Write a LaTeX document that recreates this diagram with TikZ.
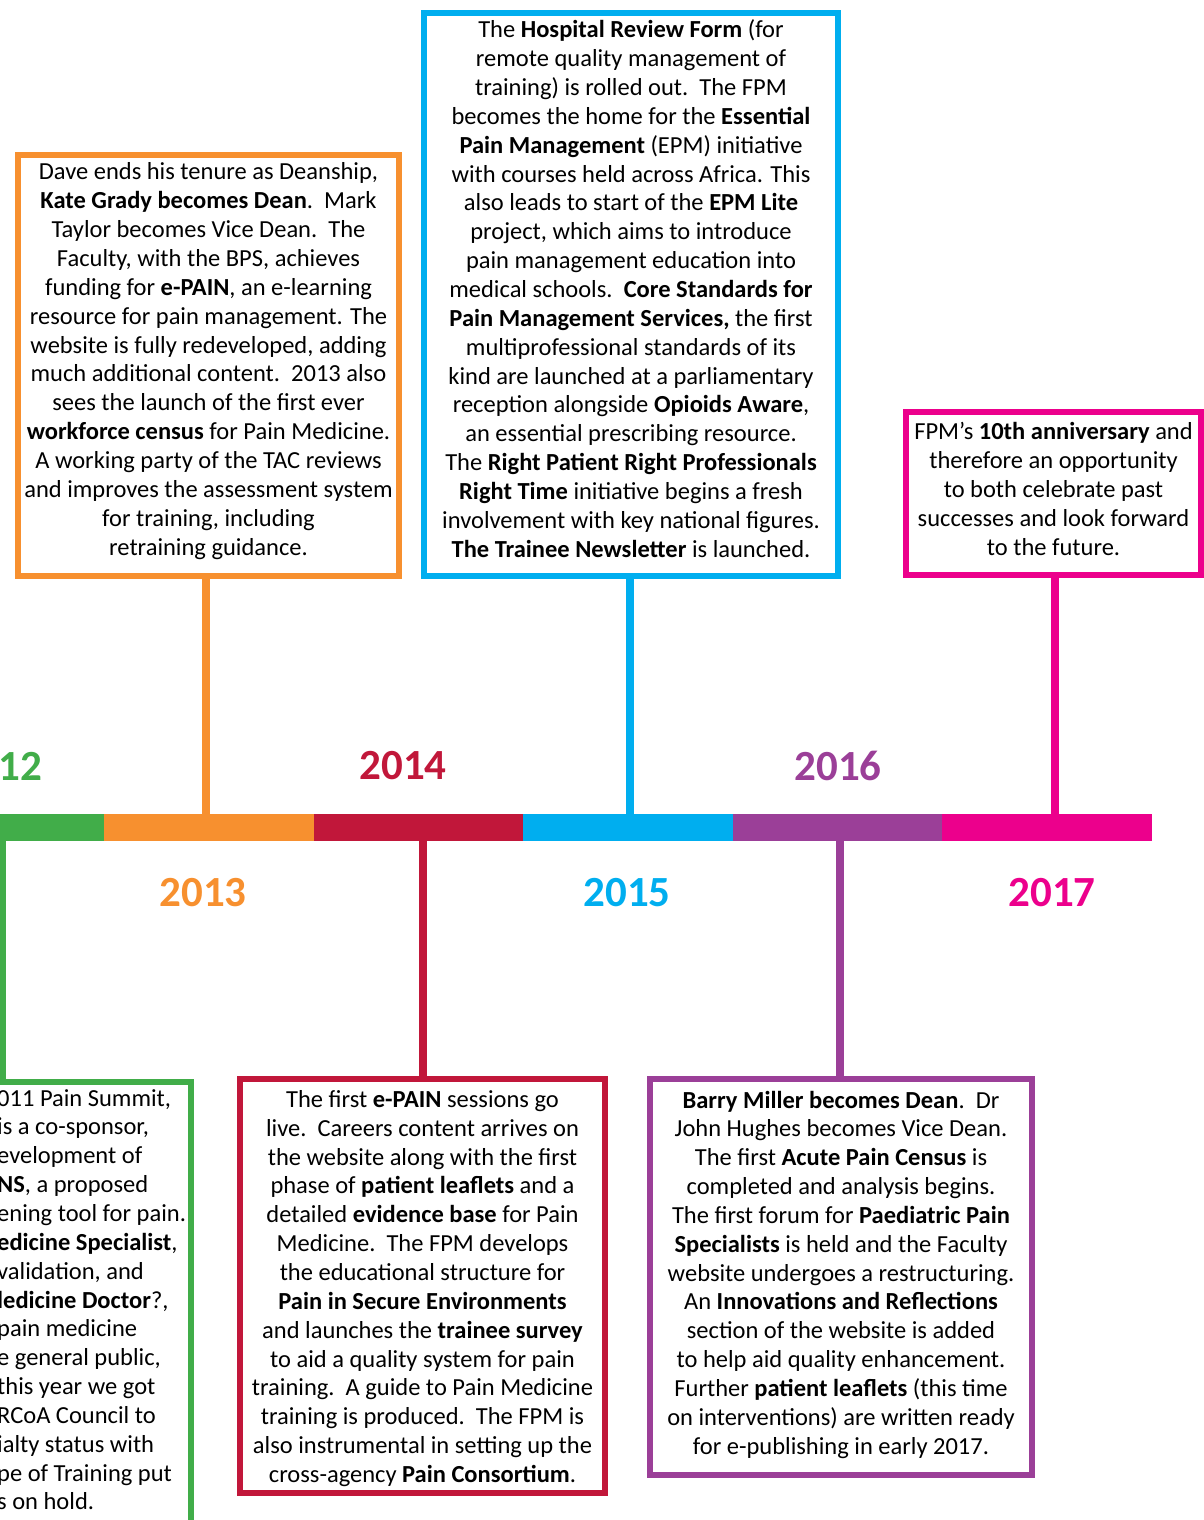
\documentclass[tikz,border=0pt]{standalone}
\usepackage{fontspec}
\setmainfont{Carlito}
\definecolor{cgreen}{HTML}{41AD49}
\definecolor{corange}{HTML}{F7902F}
\definecolor{ccrimson}{HTML}{C1173A}
\definecolor{ccyan}{HTML}{00AEEF}
\definecolor{cpurple}{HTML}{9B3F98}
\definecolor{cmagenta}{HTML}{EC008C}
\newcommand{\dn}[1]{\rule[-#1pt]{0pt}{0pt}}
\begin{document}
\begin{tikzpicture}[x=1pt,y=-1pt,
  body/.style={font=\fontsize{24.5}{28.85}\selectfont},
  box/.style={body, draw, line width=5.5pt, fill=white, align=center, inner sep=0pt},
  seg/.style={minimum height=27pt, inner sep=0pt, outer sep=0pt, anchor=west},
  stem/.style={line width=7.5pt},
  year/.style={font=\fontsize{43}{43}\selectfont\bfseries, inner sep=0pt}]
\useasboundingbox (0,0) rectangle (1204,1520);
\clip (0,0) rectangle (1204,1520);

% timeline bar
\node[seg, fill=cgreen,   minimum width=114] (s12) at (-10,827.5) {};
\node[seg, fill=corange,  minimum width=210] (s13) at (104,827.5) {};
\node[seg, fill=ccrimson, minimum width=209] (s14) at (314,827.5) {};
\node[seg, fill=ccyan,    minimum width=210] (s15) at (523,827.5) {};
\node[seg, fill=cpurple,  minimum width=209] (s16) at (733,827.5) {};
\node[seg, fill=cmagenta, minimum width=210] (s17) at (942,827.5) {};

% years
\node[year, text=cgreen, anchor=east] (y12) at (42,766) {12};
\node[year, text=ccrimson] (y14) at (403,766) {2014};
\node[year, text=cpurple] (y16) at (838,766) {2016};
\node[year, text=corange] (y13) at (203,893) {2013};
\node[year, text=ccyan] (y15) at (627,893) {2015};
\node[year, text=cmagenta] (y17) at (1052,893) {2017};

% boxes
\node[box, draw=corange, minimum width=381, minimum height=421] (obox) at (208.5,365.5) {%
Dave ends his tenure as Deanship,\\
\textbf{Kate Grady becomes Dean}.\ \ Mark\\
Taylor becomes Vice Dean.\ \ The\\
Faculty, with the BPS, achieves\\
funding for \textbf{e-PAIN}, an e-learning\\
resource for pain management. The\\
website is fully redeveloped, adding\\
much additional content.\ \ 2013 also\\
sees the launch of the first ever\\
\textbf{workforce census} for Pain Medicine.\\
A working party of the TAC reviews\\
and improves the assessment system\\
for training, including\\
retraining guidance.\dn{13}};

\node[box, draw=ccyan, minimum width=414, minimum height=563] (cbox) at (631,294.5) {%
The \textbf{Hospital Review Form} (for\\
remote quality management of\\
training) is rolled out.\ \ The FPM\\
becomes the home for the \textbf{Essential}\\
\textbf{Pain Management} (EPM) initiative\\
with courses held across Africa. This\\
also leads to start of the \textbf{EPM Lite}\\
project, which aims to introduce\\
pain management education into\\
medical schools.\ \ \textbf{Core Standards for}\\
\textbf{Pain Management Services,} the first\\
multiprofessional standards of its\\
kind are launched at a parliamentary\\
reception alongside \textbf{Opioids Aware},\\
an essential prescribing resource.\\
The \textbf{Right Patient Right Professionals}\\
\textbf{Right Time} initiative begins a fresh\\
involvement with key national figures.\\
\textbf{The Trainee Newsletter} is launched.\dn{12}};

\node[box, draw=cmagenta, minimum width=295, minimum height=163] (mbox) at (1053.5,493.5) {%
FPM’s \textbf{10th anniversary} and\\
therefore an opportunity\\
to both celebrate past\\
successes and look forward\\
to the future.\dn{9}};

\node[box, draw=ccrimson, minimum width=365, minimum height=414] (rbox) at (422.5,1286) {%
\rule{0pt}{22pt}The first \textbf{e-PAIN} sessions go\\
live.\ \ Careers content arrives on\\
the website along with the first\\
phase of \textbf{patient leaflets} and a\\
detailed \textbf{evidence base} for Pain\\
Medicine.\ \ The FPM develops\\
the educational structure for\\
\textbf{Pain in Secure Environments}\\
and launches the \textbf{trainee survey}\\
to aid a quality system for pain\\
training.\ \ A guide to Pain Medicine\\
training is produced.\ \ The FPM is\\
also instrumental in setting up the\\
cross-agency \textbf{Pain Consortium}.};

\node[box, draw=cpurple, minimum width=382, minimum height=396] (pbox) at (841,1277) {%
\textbf{Barry Miller becomes Dean}.\ \ Dr\\
John Hughes becomes Vice Dean.\\
The first \textbf{Acute Pain Census} is\\
completed and analysis begins.\\
The first forum for \textbf{Paediatric Pain}\\
\textbf{Specialists} is held and the Faculty\\
website undergoes a restructuring.\\
An \textbf{Innovations and Reflections}\\
section of the website is added\\
to help aid quality enhancement.\\
Further \textbf{patient leaflets} (this time\\
on interventions) are written ready\\
for e-publishing in early 2017.\dn{9}};

% partly visible 2012 box
\node[box, draw=cgreen, minimum width=378, minimum height=470, anchor=north] (gbox) at (2,1079) {};
\node[body, align=left, inner sep=0pt, anchor=north west] (gtext) at (-3,1089) {%
011 Pain Summit,\\
is a co-sponsor,\\
evelopment of\\
\textbf{NS}, a proposed\\
ening tool for pain.\\
\textbf{edicine Specialist},\\
validation, and\\
\textbf{ledicine Doctor}?,\\
pain medicine\\
e general public,\\
this year we got\\
RCoA Council to\\
ialty status with\\
pe of Training put\\
s on hold.};

% stems
\draw[stem, corange]  (obox.south -| 206,0) -- (s13.north -| 206,0);
\draw[stem, ccyan]    (cbox.south -| 630,0) -- (s15.north -| 630,0);
\draw[stem, cmagenta] (mbox.south -| 1055,0) -- (s17.north -| 1055,0);
\draw[stem, ccrimson] (s14.south -| 423,0) -- (rbox.north -| 423,0);
\draw[stem, cpurple]  (s16.south -| 840,0) -- (pbox.north -| 840,0);
\draw[stem, cgreen]   (s12.south -| 2,0) -- (gbox.north -| 2,0);
\end{tikzpicture}
\end{document}
